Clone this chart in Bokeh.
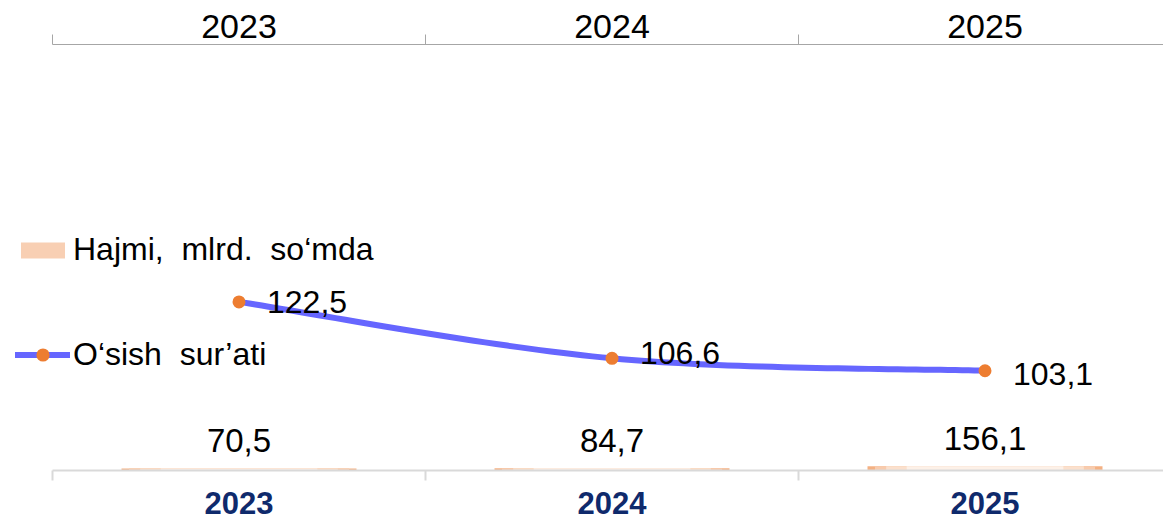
import numpy as np
from bokeh.plotting import figure
from bokeh.models import (ColumnDataSource, Range1d, LinearAxis, FixedTicker,
                          Legend, LegendItem)
from bokeh.embed import file_html
from bokeh.resources import INLINE
from bokeh.core.properties import value

# ---- data ----
years = ["2023", "2024", "2025"]
volume = [70.5, 84.7, 156.1]          # Hajmi, mlrd. so'mda
growth = [122.5, 106.6, 103.1]        # O'sish sur'ati
volume_name = "Hajmi,  mlrd.  so\u2018mda"
growth_name = "O\u2018sish  sur\u2019ati"

# label nudges (style, not data)
growth_label_dy = [0, -5, 3]


def fmt(v):
    return f"{v:.1f}".replace(".", ",")


FONT = "Liberation Sans"
W, H = 1163, 519
AXIS_START = 52     # px where the category axis begins
CAT_PX = 373        # px per category

x = list(np.arange(len(years)) + 0.5)

p = figure(width=W, height=H, output_backend="svg", toolbar_location=None,
           x_range=Range1d(-AXIS_START / CAT_PX, (W - AXIS_START) / CAT_PX),
           y_range=Range1d(75, 195),
           x_axis_location=None, y_axis_location=None,
           min_border_left=0, min_border_right=0, min_border_top=44,
           min_border_bottom=49)
p.outline_line_color = None
p.xgrid.visible = False
p.ygrid.visible = False
p.background_fill_color = "white"
p.border_fill_color = "white"
p.extra_y_ranges = {"bars": Range1d(0, 16000)}


def cat_axis(line_color, line_width, size, style, color, standoff):
    ax = LinearAxis(
        ticker=FixedTicker(ticks=x, minor_ticks=list(range(len(years) + 1))),
        major_label_overrides={float(xi): y for xi, y in zip(x, years)},
        bounds=(0, len(years)),
        axis_line_color=line_color, axis_line_width=line_width,
        major_tick_out=0, major_tick_in=0,
        minor_tick_out=10, minor_tick_in=0,
        minor_tick_line_color=line_color, minor_tick_line_width=line_width,
        major_label_text_font=FONT, major_label_text_font_size=size,
        major_label_text_font_style=style, major_label_text_color=color,
        major_label_standoff=standoff)
    return ax


top_ax = cat_axis("#a6a6a6", 1, "34px", "normal", "black", -3)
bot_ax = cat_axis("#d9d9d9", 2, "31px", "bold", "#0f2a6c", 11)
p.add_layout(top_ax, "above")
p.add_layout(bot_ax, "below")

# ---- bars (layered to mimic the orange-to-white gradient fill) ----
bar_src = ColumnDataSource(dict(x=x, top=volume, lbl=[fmt(v) for v in volume]))
bar_layers = []
for wdt, col in [(0.63, "#f4b183"), (0.59, "#f8cbad"), (0.53, "#fbe0cd"),
                 (0.42, "#fdf1e8")]:
    bar_layers.append(p.vbar(x="x", top="top", width=wdt, source=bar_src,
                             y_range_name="bars", fill_color=col,
                             line_color=None))
legend_bar = p.vbar(x="x", top="top", width=0.0, source=bar_src,
                    y_range_name="bars", fill_color="#f8cfb3", line_color=None,
                    visible=True)
p.text(x="x", y="top", text="lbl", source=bar_src, y_range_name="bars",
       text_align="center", text_baseline="alphabetic", y_offset=-28,
       text_font=value(FONT), text_font_size="33px", text_color="black")


# ---- smoothed line (Catmull-Rom through the data points) ----
def smooth(xs, ys, n=40):
    P = np.column_stack([xs, ys]).astype(float)
    P = np.vstack([P[0], P, P[-1]])
    out = []
    t = np.linspace(0, 1, n)[:, None]
    for i in range(1, len(P) - 2):
        p0, p1, p2, p3 = P[i - 1], P[i], P[i + 1], P[i + 2]
        seg = 0.5 * ((2 * p1) + (-p0 + p2) * t
                     + (2 * p0 - 5 * p1 + 4 * p2 - p3) * t ** 2
                     + (-p0 + 3 * p1 - 3 * p2 + p3) * t ** 3)
        out.append(seg if i == 1 else seg[1:])
    return np.vstack(out)


curve = smooth(x, growth)
line = p.line(curve[:, 0], curve[:, 1], line_color="#6666ff", line_width=6,
              line_cap="round", line_join="round")
g_src = ColumnDataSource(dict(x=x, y=growth, lbl=[fmt(v) for v in growth],
                              dy=growth_label_dy))
pts = p.scatter(x="x", y="y", source=g_src, size=13, fill_color="#ed7d31",
                line_color=None)
p.text(x="x", y="y", text="lbl", source=g_src, x_offset=28, y_offset="dy",
       text_align="left", text_baseline="middle",
       text_font=value(FONT), text_font_size="32px", text_color="black")

# ---- legends ----
common = dict(orientation="vertical", background_fill_alpha=0,
              border_line_alpha=0, padding=0, margin=0, glyph_width=55,
              label_standoff=3, label_text_font=FONT,
              label_text_font_size="32px", label_text_color="black",
              label_text_baseline="middle")
legend_bars = Legend(items=[LegendItem(label=volume_name,
                                       renderers=[legend_bar])],
                     location=(15, 202), glyph_height=20, **common)
legend_line = Legend(items=[LegendItem(label=growth_name,
                                       renderers=[line, pts])],
                     location=(15, 97), glyph_height=33, **common)
p.add_layout(legend_bars)
p.add_layout(legend_line)

open("out.html", "w").write(file_html(p, INLINE))
